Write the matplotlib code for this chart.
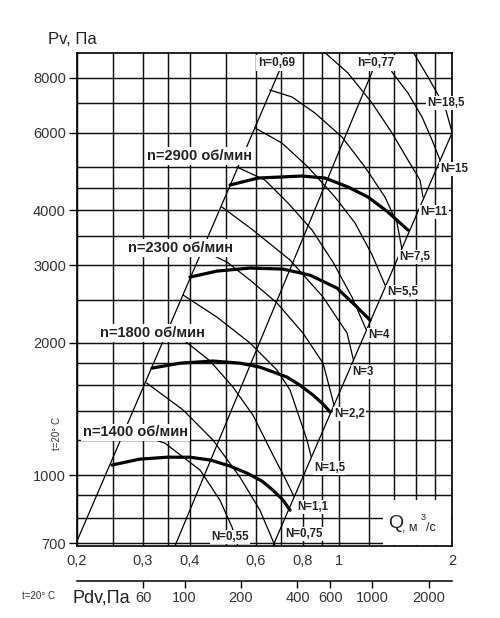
"""Fan performance nomogram: Pv vs Q on log-log axes, with power and efficiency lines."""

import numpy as np
import matplotlib

matplotlib.use("Agg")
import matplotlib.pyplot as plt
from matplotlib.patches import Rectangle
from matplotlib.ticker import NullLocator

plt.rcParams["font.family"] = ["Liberation Sans", "DejaVu Sans"]

# --- axes / grid ---------------------------------------------------------
Q_LIM = (0.2, 2.0)
P_LIM = (690, 9100)
Q_GRID = [0.2, 0.25, 0.3, 0.35, 0.4, 0.5, 0.6, 0.7, 0.8, 0.9, 1.0, 1.2, 1.4, 1.6, 1.8, 2.0]
P_GRID = [700, 800, 900, 1000, 1200, 1400, 1600, 1800, 2000, 2500, 3000,
          3500, 4000, 4500, 5000, 6000, 7000, 8000]
Q_TICKS = [0.2, 0.3, 0.4, 0.6, 0.8, 1.0, 2.0]
Q_TICK_LABELS = ["0,2", "0,3", "0,4", "0,6", "0,8", "1", "2"]
P_TICKS = [700, 1000, 2000, 3000, 4000, 6000, 8000]
PDV_TICKS = [60, 100, 200, 400, 600, 1000, 2000]
PDV_PER_Q2 = 667  # dynamic pressure, Pa, at Q = 1 m3/s

# --- fan curves (thick) --------------------------------------------------
Q_1400 = [0.248, 0.294, 0.348, 0.400, 0.453, 0.512, 0.568, 0.623, 0.666, 0.709, 0.740]
P_1400 = [1054, 1087, 1098, 1098, 1082, 1048, 1010, 969, 924, 877, 832]
Q_1800 = [0.317, 0.377, 0.461, 0.544, 0.615, 0.726, 0.786, 0.852, 0.906, 0.946]
P_1800 = [1750, 1796, 1816, 1796, 1759, 1670, 1601, 1520, 1450, 1391]
Q_2300 = [0.400, 0.472, 0.579, 0.709, 0.836, 0.987, 1.116, 1.209]
P_2300 = [2817, 2907, 2954, 2938, 2847, 2660, 2409, 2250]
Q_2900 = [0.512, 0.608, 0.796, 0.917, 1.056, 1.194, 1.350, 1.526]
P_2900 = [4561, 4731, 4781, 4731, 4514, 4283, 3960, 3604]

# --- efficiency rays (straight in log-log) -------------------------------
Q_ETA_LEFT = [0.2, 0.706]
P_ETA_LEFT = [708, 8600]
Q_ETA_BEST = [0.365, 1.250]
P_ETA_BEST = [690, 8600]
Q_ETA_RIGHT = [0.666, 2.0]
P_ETA_RIGHT = [690, 5987]

# --- shaft power lines N, kW ---------------------------------------------
Q_N055 = [0.269, 0.343, 0.426, 0.481, 0.518, 0.537]
P_N055 = [1265, 1182, 1026, 877, 762, 690]
Q_N075 = [0.307, 0.384, 0.461, 0.544, 0.615, 0.675]
P_N075 = [1618, 1405, 1201, 989, 832, 690]
Q_N11 = [0.345, 0.388, 0.453, 0.521, 0.589, 0.666, 0.717, 0.759]
P_N11 = [2080, 2016, 1816, 1585, 1369, 1111, 985, 892]
Q_N15 = [0.384, 0.472, 0.579, 0.683, 0.740, 0.821, 0.843]
P_N15 = [2564, 2286, 1995, 1732, 1560, 1201, 1098]
Q_N22 = [0.431, 0.502, 0.579, 0.683, 0.801, 0.906, 0.969]
P_N22 = [3246, 3048, 2773, 2460, 2102, 1796, 1445]
Q_N3 = [0.487, 0.589, 0.740, 0.906, 1.050, 1.092]
P_N3 = [4065, 3604, 3080, 2538, 2102, 1826]
Q_N4 = [0.534, 0.634, 0.731, 0.847, 0.963, 1.082, 1.182]
P_N4 = [5011, 4682, 4150, 3604, 3048, 2538, 2137]
Q_N55 = [0.597, 0.704, 0.826, 0.975, 1.103, 1.224, 1.329]
P_N55 = [6147, 5682, 5011, 4283, 3738, 3166, 2690]
Q_N75 = [0.654, 0.749, 0.862, 1.018, 1.172, 1.325, 1.427, 1.469]
P_N75 = [7498, 7228, 6648, 5863, 5011, 4283, 3738, 3280]
Q_N110 = [0.900, 1.056, 1.224, 1.384, 1.526, 1.643, 1.674]
P_N110 = [9244, 8195, 7005, 5987, 5198, 4682, 4283]
Q_N150 = [1.310, 1.384, 1.526, 1.664, 1.769, 1.858]
P_N150 = [9200, 8239, 7381, 6510, 5772, 5198]
Q_N185 = [1.564, 1.726, 1.916, 2.0]
P_N185 = [9244, 8026, 6860, 6020]

# label anchors (left edge, vertical centre) in data coordinates
FAN_LABELS = [("n=2900 об/мин", 0.307, 5308), ("n=2300 об/мин", 0.274, 3280),
              ("n=1800 об/мин", 0.230, 2102), ("n=1400 об/мин", 0.2075, 1252)]
ETA_LABELS = [("h=0,69", 0.608, 8636), ("h=0,77", 1.116, 8636)]
N_LABELS = [("N=0,55", 0.455, 723), ("N=0,75", 0.717, 734), ("N=1,1", 0.772, 845),
            ("N=1,5", 0.857, 1036), ("N=2,2", 0.969, 1378), ("N=3", 1.082, 1714),
            ("N=4", 1.194, 2080), ("N=5,5", 1.342, 2605), ("N=7,5", 1.445, 3130),
            ("N=11", 1.643, 3960), ("N=15", 1.858, 4960), ("N=18,5", 1.715, 7005)]


def main():
    W, H = 500, 618
    fig = plt.figure(figsize=(W / 100, H / 100), dpi=100)
    ax = fig.add_axes([77 / W, 1 - 546 / H, 375 / W, 493 / H])
    ax.set_xscale("log")
    ax.set_yscale("log")
    ax.set_xlim(*Q_LIM)
    ax.set_ylim(*P_LIM)

    for q in Q_GRID:
        ax.axvline(q, color="#111", lw=1.05, zorder=1)
    for p in P_GRID:
        ax.axhline(p, color="#111", lw=1.05, zorder=1)
    # white field behind the Q axis title
    ax.add_patch(Rectangle((0.816, 0.002), 0.182, 0.091, transform=ax.transAxes,
                           fc="white", ec="none", zorder=1.5))

    thin = dict(color="black", lw=0.9, zorder=2, solid_joinstyle="round")
    for qs, ps in [(Q_ETA_LEFT, P_ETA_LEFT), (Q_ETA_BEST, P_ETA_BEST),
                   (Q_ETA_RIGHT, P_ETA_RIGHT)]:
        ax.plot(qs, ps, **thin)
    for qs, ps in [(Q_N055, P_N055), (Q_N075, P_N075), (Q_N11, P_N11), (Q_N15, P_N15),
                   (Q_N22, P_N22), (Q_N3, P_N3), (Q_N4, P_N4), (Q_N55, P_N55),
                   (Q_N75, P_N75), (Q_N110, P_N110), (Q_N150, P_N150), (Q_N185, P_N185)]:
        ax.plot(qs, ps, **thin)
    for qs, ps in [(Q_1400, P_1400), (Q_1800, P_1800), (Q_2300, P_2300), (Q_2900, P_2900)]:
        ax.plot(qs, ps, color="black", lw=2.3, zorder=3,
                solid_joinstyle="round", solid_capstyle="round")

    box = dict(facecolor="white", edgecolor="none", pad=1.2)
    for txt, q, p in FAN_LABELS:
        ax.text(q, p, txt, fontsize=10.5, fontweight="bold", color="#222",
                ha="left", va="center", bbox=box, zorder=5)
    for txt, q, p in ETA_LABELS:
        ax.text(q, p, txt, fontsize=8.5, fontweight="bold", color="#222",
                ha="left", va="center", bbox=box, zorder=5)
    for txt, q, p in N_LABELS:
        ax.text(q, p, txt, fontsize=8.3, fontweight="bold", color="#222",
                ha="left", va="center", bbox=dict(facecolor="white", edgecolor="none", pad=0.8),
                zorder=5, clip_on=False)

    ax.set_xticks(Q_TICKS, Q_TICK_LABELS)
    ax.set_yticks(P_TICKS, [str(v) for v in P_TICKS])
    ax.xaxis.set_minor_locator(NullLocator())
    ax.yaxis.set_minor_locator(NullLocator())
    ax.tick_params(axis="x", length=0, pad=6, labelsize=10.5, labelcolor="#333")
    ax.tick_params(axis="y", length=6, width=1, pad=2, labelsize=10.5, labelcolor="#333")
    for s in ax.spines.values():
        s.set_linewidth(1.2)
        s.set_zorder(4)

    # dynamic pressure scale under the Q axis
    sec = ax.secondary_xaxis(-0.071, functions=(lambda q: PDV_PER_Q2 * np.asarray(q) ** 2,
                                                 lambda p: np.sqrt(np.abs(np.asarray(p)) / PDV_PER_Q2)))
    sec.set_xticks(PDV_TICKS, [str(v) for v in PDV_TICKS])
    sec.xaxis.set_minor_locator(NullLocator())
    sec.tick_params(length=5, width=1, pad=2, labelsize=10.5, labelcolor="#333")
    sec.spines["bottom"].set_linewidth(1.1)

    fig.text(48 / W, 1 - 39 / H, "Pv, Па", fontsize=12, color="#222", ha="left", va="center")
    fig.text(72 / W, 1 - 598 / H, "Pdv,Па", fontsize=13, color="#222", ha="left", va="center")
    fig.text(22 / W, 1 - 596 / H, "t=20° C", fontsize=7, color="#333", ha="left", va="center")
    fig.text(57 / W, 1 - 433 / H, "t=20° C", fontsize=7, color="#333", rotation=90,
             ha="center", va="center")
    fig.text(388 / W, 1 - 524 / H, "Q", fontsize=14, color="#222", ha="left", va="center")
    fig.text(402 / W, 1 - 528 / H, ", м", fontsize=9, color="#222", ha="left", va="center")
    fig.text(421 / W, 1 - 518 / H, "3", fontsize=6.5, color="#222", ha="left", va="center")
    fig.text(426 / W, 1 - 528 / H, "/с", fontsize=9, color="#222", ha="left", va="center")

    fig.savefig("out.png", dpi=100, facecolor="white")


if __name__ == "__main__":
    main()
